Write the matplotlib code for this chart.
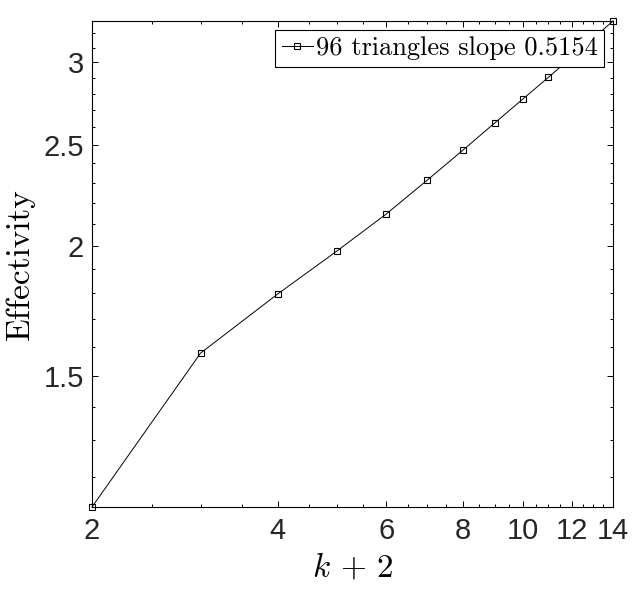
import numpy as np
import matplotlib
matplotlib.use("Agg")
import matplotlib.pyplot as plt
from matplotlib.ticker import FixedLocator, FixedFormatter, NullFormatter

plt.rcParams['mathtext.fontset'] = 'cm'
plt.rcParams['axes.formatter.use_mathtext'] = True

# data
k_plus_2 = [2, 3, 4, 5, 6, 7, 8, 9, 10, 11, 12, 13, 14]
effectivity = [1.122, 1.577, 1.797, 1.978, 2.145, 2.313, 2.472,
               2.624, 2.767, 2.903, 3.036, 3.164, 3.288]
series_label = '96 triangles slope 0.5154'

x_ticks = [2, 4, 6, 8, 10, 12, 14]
x_tick_labels = ['2', '4', '6', '8', '10', '12', '14']
y_ticks = [1.5, 2, 2.5, 3]
y_tick_labels = ['1.5', '2', '2.5', '3']

fig = plt.figure(figsize=(6.38, 5.92), dpi=100)
ax = fig.add_axes([0.1442, 0.1436, 0.8166, 0.8209])

ax.plot(k_plus_2, effectivity, color='black', linewidth=0.7,
        marker='s', markersize=5, markerfacecolor='none',
        markeredgecolor='black', markeredgewidth=0.8,
        clip_on=False, label=series_label, zorder=3)

ax.set_xscale('log')
ax.set_yscale('log')
ax.set_xlim(k_plus_2[0], k_plus_2[-1])
ax.set_ylim(effectivity[0], effectivity[-1])

# ticks MATLAB style
ax.xaxis.set_major_locator(FixedLocator(x_ticks))
ax.xaxis.set_major_formatter(FixedFormatter(x_tick_labels))
ax.xaxis.set_minor_locator(FixedLocator(np.arange(2.5, 14, 0.5)))
ax.xaxis.set_minor_formatter(NullFormatter())
ax.yaxis.set_major_locator(FixedLocator(y_ticks))
ax.yaxis.set_major_formatter(FixedFormatter(y_tick_labels))
ax.yaxis.set_minor_locator(FixedLocator(np.arange(1.2, 3.25, 0.1)))
ax.yaxis.set_minor_formatter(NullFormatter())

ax.tick_params(which='both', direction='in', top=True, right=True,
               width=0.7, colors='black')
ax.tick_params(which='major', length=4.5)
ax.tick_params(which='minor', length=2.5)
ax.tick_params(axis='x', which='major', pad=7)
ax.tick_params(axis='y', which='major', pad=6)
for lab in ax.get_xticklabels() + ax.get_yticklabels():
    lab.set_fontfamily('Liberation Sans')
    lab.set_fontsize(21)
    lab.set_color('#262626')

for sp in ax.spines.values():
    sp.set_linewidth(0.8)

ax.set_xlabel(r'$k\,+\,2$', fontsize=24, labelpad=4)
ax.set_ylabel('Effectivity', fontsize=24, fontfamily='cmr10', labelpad=6)

leg = ax.legend(loc='upper right', prop={'family': 'cmr10', 'size': 19},
                fancybox=False, framealpha=1, edgecolor='black',
                borderaxespad=0.33, borderpad=0.25, handlelength=1.2,
                handletextpad=0.1, markerscale=0.8)
leg.get_frame().set_linewidth(0.8)

fig.savefig('out.png', dpi=100)
